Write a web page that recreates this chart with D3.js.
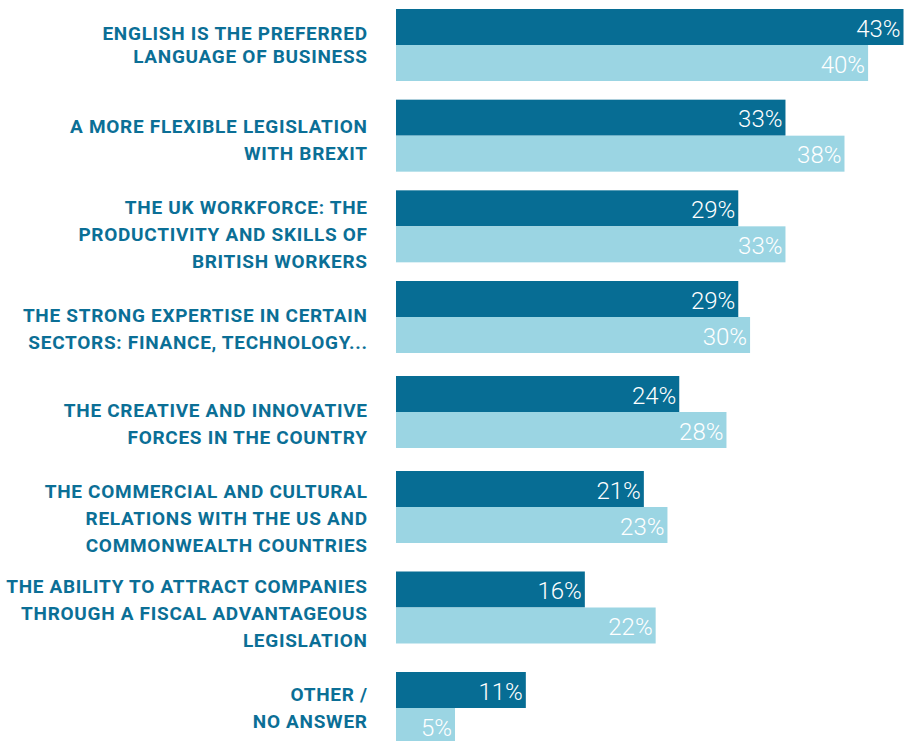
<!DOCTYPE html>
<html>
<head>
<meta charset="utf-8">
<script src="https://cdn.jsdelivr.net/npm/d3@7"></script>
<style>
  html, body { margin: 0; padding: 0; background: #ffffff; }
  svg { display: block; }
</style>
</head>
<body>
<svg id="chart" width="908" height="741"></svg>
<script>
// Reasons given, two survey series per reason (values in %)
const categories = [
  "English is the preferred|language of business",
  "A more flexible legislation|with Brexit",
  "The UK workforce: the|productivity and skills of|British workers",
  "The strong expertise in certain|sectors: finance, technology...",
  "The creative and innovative|forces in the country",
  "The commercial and cultural|relations with the US and|Commonwealth countries",
  "The ability to attract companies|through a fiscal advantageous|legislation",
  "Other /|no answer"
];
const seriesA = [43, 33, 29, 29, 24, 21, 16, 11];
const seriesB = [40, 38, 33, 30, 28, 23, 22, 5];

const darkBlue = "#076d94";
const lightBlue = "#9bd5e3";
const labelColor = "#0b6f96";

const svg = d3.select("#chart");

// Horizontal value scale
const x = d3.scaleLinear().domain([0, 43]).range([396, 903.5]);

// Row placement of each bar pair (rows open up slightly towards the bottom)
const rowTop = d3.scaleLinear().domain([0, 3, 5, 7]).range([9, 281, 471, 672]);
const barH = 36;

// Category label centres sit on an even grid
const labelY = d3.scalePoint().domain(d3.range(categories.length)).range([44.7, 708]);

const rows = categories.map((c, i) => ({ i, label: c, a: seriesA[i], b: seriesB[i] }));

const g = svg.append("g");

const row = g.selectAll("g.row").data(rows).enter().append("g").attr("class", "row");

// Series A (dark) bars
row.append("rect")
  .attr("x", x(0))
  .attr("y", d => rowTop(d.i))
  .attr("width", d => x(d.a) - x(0))
  .attr("height", barH)
  .attr("fill", darkBlue);

// Series B (light) bars
row.append("rect")
  .attr("x", x(0))
  .attr("y", d => rowTop(d.i) + barH)
  .attr("width", d => x(d.b) - x(0))
  .attr("height", barH)
  .attr("fill", lightBlue);

const valueFont = "Roboto, 'DejaVu Sans', sans-serif";

row.append("text")
  .attr("x", d => x(d.a) - 3)
  .attr("y", d => rowTop(d.i) + barH / 2 + 9.5)
  .attr("text-anchor", "end")
  .attr("font-family", valueFont)
  .attr("font-weight", 300)
  .attr("font-size", 24)
  .attr("fill", "#ffffff")
  .text(d => d.a + "%");

row.append("text")
  .attr("x", d => x(d.b) - 3)
  .attr("y", d => rowTop(d.i) + barH * 1.5 + 9.5)
  .attr("text-anchor", "end")
  .attr("font-family", valueFont)
  .attr("font-weight", 300)
  .attr("font-size", 24)
  .attr("fill", "#ffffff")
  .text(d => d.b + "%");

// Category labels, right-aligned against the bars
const capHalf = 6.7;
row.each(function(d) {
  const lines = d.label.toUpperCase().split("|");
  const lh = d.i === 0 ? 22.5 : 26.7;   // first heading is set tighter
  const first = labelY(d.i) - (lines.length - 1) * lh / 2 + capHalf;
  const t = d3.select(this).append("text")
    .attr("text-anchor", "end")
    .attr("font-family", "Roboto, 'DejaVu Sans', sans-serif")
    .attr("font-weight", 700)
    .attr("font-size", 19)
    .attr("letter-spacing", 0.7)
    .attr("fill", labelColor);
  lines.forEach((ln, k) => {
    t.append("tspan")
      .attr("x", 367.7)
      .attr("y", first + k * lh)
      .text(ln);
  });
});
</script>
</body>
</html>
